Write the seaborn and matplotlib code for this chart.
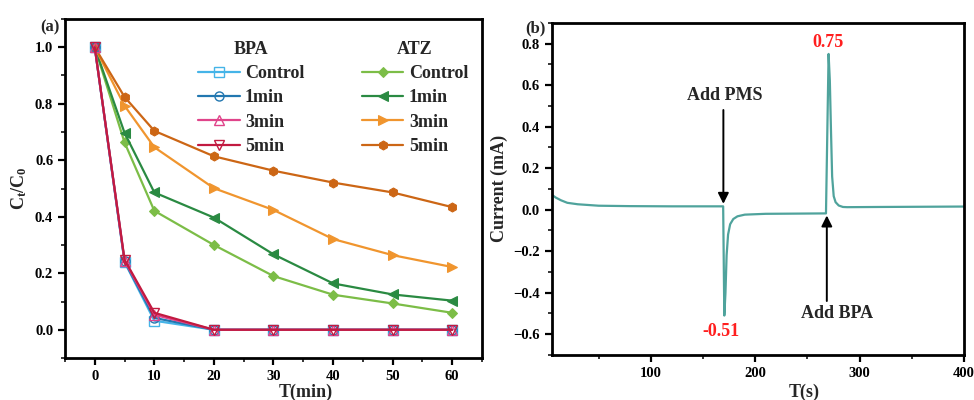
import numpy as np
import matplotlib
matplotlib.use("Agg")
import matplotlib.pyplot as plt
import seaborn as sns

# ---- (a) degradation kinetics ----
t_min = [0, 5, 10, 20, 30, 40, 50, 60]

bpa_labels = ["Control", "1min", "3min", "5min"]
bpa_control = [1.0, 0.240, 0.032, 0.0, 0.0, 0.0, 0.0, 0.0]
bpa_1min = [1.0, 0.242, 0.042, 0.0, 0.0, 0.0, 0.0, 0.0]
bpa_3min = [1.0, 0.245, 0.053, 0.0, 0.0, 0.0, 0.0, 0.0]
bpa_5min = [1.0, 0.248, 0.060, 0.0, 0.0, 0.0, 0.0, 0.0]

atz_labels = ["Control", "1min", "3min", "5min"]
atz_control = [1.0, 0.663, 0.421, 0.300, 0.190, 0.124, 0.093, 0.060]
atz_1min = [1.0, 0.697, 0.486, 0.397, 0.267, 0.164, 0.125, 0.103]
atz_3min = [1.0, 0.793, 0.646, 0.501, 0.424, 0.321, 0.264, 0.222]
atz_5min = [1.0, 0.824, 0.704, 0.614, 0.563, 0.521, 0.486, 0.434]

x_ticks_a = [0, 10, 20, 30, 40, 50, 60]
y_ticks_a = [0.0, 0.2, 0.4, 0.6, 0.8, 1.0]

# ---- (b) current response ----
time_s = [5, 9, 14, 20, 30, 50, 80, 120, 160, 169.3,
          170.4, 171.5, 172.6, 174, 176, 179, 183, 190, 210, 240, 267.8,
          269.0, 270.3, 271.5, 272.6, 273.7, 275.2, 277, 280, 284, 288, 320, 360, 400]
current_ma = [0.072, 0.058, 0.045, 0.033, 0.026, 0.019, 0.017, 0.016, 0.016, 0.016,
              -0.51, -0.40, -0.22, -0.12, -0.07, -0.045, -0.032, -0.024, -0.020, -0.019, -0.018,
              0.35, 0.75, 0.62, 0.38, 0.16, 0.065, 0.036, 0.020, 0.013, 0.012, 0.013, 0.014, 0.015]
x_ticks_b = [100, 200, 300, 400]
y_ticks_b = [-0.6, -0.4, -0.2, 0.0, 0.2, 0.4, 0.6, 0.8]
peak_low, peak_high = -0.51, 0.75

sns.set_style("ticks")
plt.rcParams["font.family"] = ["Liberation Serif", "DejaVu Serif"]
plt.rcParams["font.weight"] = "bold"
plt.rcParams["axes.labelweight"] = "bold"
plt.rcParams["mathtext.default"] = "regular"
plt.rcParams["axes.unicode_minus"] = True

fig = plt.figure(figsize=(9.74, 4.0), dpi=100)
ax1 = fig.add_axes([0.0667, 0.105, 0.4282, 0.8475])
ax2 = fig.add_axes([0.5664, 0.1125, 0.4233, 0.8305])


def style_axes(ax):
    for sp in ax.spines.values():
        sp.set_linewidth(2.0)
        sp.set_color("black")
        sp.set_visible(True)
    ax.tick_params(which="major", direction="out", length=5, width=1.6,
                   labelsize=10.5, colors="black", top=False, right=False)
    ax.tick_params(which="minor", direction="out", length=3, width=1.3,
                   top=False, right=False)
    ax.grid(False)
    ax.set_facecolor("white")


lw = 1.6
ms = 6.5
bpa_series = [bpa_control, bpa_1min, bpa_3min, bpa_5min]
bpa_colors = ["#45b4e8", "#2277b0", "#e0448a", "#c21a40"]
bpa_markers = ["s", "o", "^", "v"]
atz_series = [atz_control, atz_1min, atz_3min, atz_5min]
atz_colors = ["#7cbd47", "#2a8a42", "#f0952e", "#cc6615"]
atz_markers = ["D", "<", ">", "h"]

atz_handles = []
for vals, col, mk in zip(atz_series, atz_colors, atz_markers):
    sns.lineplot(x=t_min, y=vals, ax=ax1, color=col, marker=mk, lw=lw,
                 markersize=ms if mk != "D" else 5.5, markeredgecolor=col,
                 markerfacecolor=col, legend=False)
    atz_handles.append(ax1.lines[-1])

bpa_handles = []
for vals, col, mk in zip(bpa_series, bpa_colors, bpa_markers):
    sns.lineplot(x=t_min, y=vals, ax=ax1, color=col, marker=mk, lw=lw,
                 markersize=ms, markeredgecolor=col, markerfacecolor="none",
                 markeredgewidth=1.0, legend=False)
    bpa_handles.append(ax1.lines[-1])

ax1.set_xlim(-5, 65)
ax1.set_ylim(-0.1, 1.1)
ax1.set_xticks(x_ticks_a)
ax1.set_yticks(y_ticks_a)
ax1.set_yticklabels([f"{v:.1f}" for v in y_ticks_a])
ax1.xaxis.set_minor_locator(matplotlib.ticker.MultipleLocator(5))
ax1.yaxis.set_minor_locator(matplotlib.ticker.MultipleLocator(0.1))
style_axes(ax1)
ax1.set_xlabel("T(min)", fontsize=13, labelpad=1)
ax1.xaxis.set_label_coords(0.578, -0.075)
ax1.set_ylabel("C$_t$/C$_0$", fontsize=13, labelpad=4)

leg_kw = dict(frameon=False, loc="upper left", prop={"size": 13, "weight": "bold"},
              handlelength=2.3, handletextpad=0.3, labelspacing=0.4, borderpad=0,
              borderaxespad=0, title_fontproperties={"size": 13, "weight": "bold"})
leg1 = ax1.legend(bpa_handles, bpa_labels, title="BPA",
                  bbox_to_anchor=(0.319, 0.935), **leg_kw)
ax1.add_artist(leg1)
leg2 = ax1.legend(atz_handles, atz_labels, title="ATZ",
                  bbox_to_anchor=(0.712, 0.935), **leg_kw)

fig.text(40 / 974, 1 - 27 / 400, "(a)", fontsize=12, fontweight="bold",
         ha="left", va="center")

# ---- panel (b) ----
sns.lineplot(x=time_s, y=current_ma, ax=ax2, color="#4fa39c", lw=1.6,
             sort=False, legend=False)
ax2.set_xlim(5, 400)
ax2.set_ylim(-0.7, 0.9)
ax2.set_xticks(x_ticks_b)
ax2.set_yticks(y_ticks_b)
ax2.set_yticklabels([f"{v:.1f}" if v >= 0 else f"\u2212{abs(v):.1f}" for v in y_ticks_b])
ax2.xaxis.set_minor_locator(matplotlib.ticker.MultipleLocator(50))
ax2.yaxis.set_minor_locator(matplotlib.ticker.MultipleLocator(0.1))
style_axes(ax2)
ax2.set_xlabel("T(s)", fontsize=13)
ax2.xaxis.set_label_coords(0.612, -0.085)
ax2.set_ylabel("Current (mA)", fontsize=13, labelpad=4)

arrow_kw = dict(arrowstyle="-|>", color="black", lw=1.4, mutation_scale=16,
                shrinkA=0, shrinkB=0)
ax2.annotate("", xy=(169.5, 0.028), xytext=(169.5, 0.48), arrowprops=arrow_kw)
ax2.text(170.8, 0.548, "Add PMS", fontsize=13, fontweight="bold",
         ha="center", va="center")
ax2.annotate("", xy=(268.6, -0.028), xytext=(268.6, -0.44), arrowprops=arrow_kw)
ax2.text(278.7, -0.502, "Add BPA", fontsize=13, fontweight="bold",
         ha="center", va="center")

ax2.text(270.2, peak_high + 0.055, f"{peak_high:.2f}", color="#ff1f1f",
         fontsize=13, fontweight="bold", ha="center", va="center")
ax2.text(166.7, peak_low - 0.075, f"{peak_low:.2f}", color="#ff1f1f",
         fontsize=13, fontweight="bold", ha="center", va="center")

fig.text(525 / 974, 1 - 28 / 400, "(b)", fontsize=12, fontweight="bold",
         ha="left", va="center")

fig.savefig("out.png", dpi=100, facecolor="white")
